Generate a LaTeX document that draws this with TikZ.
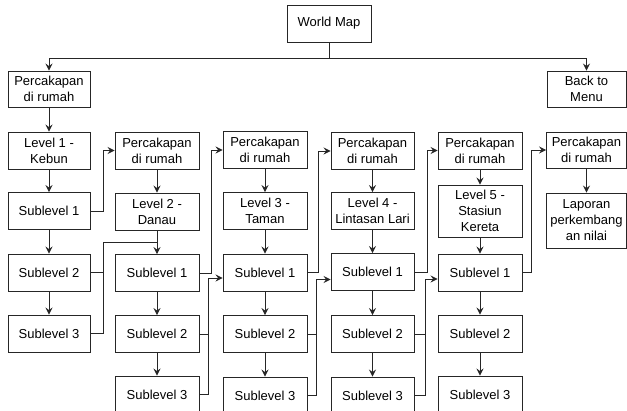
\documentclass[tikz,border=0pt]{standalone}
\usepackage{fontspec}
\setmainfont{Liberation Sans}
\usetikzlibrary{arrows.meta}
\begin{document}
\begin{tikzpicture}[x=1pt,y=-1pt,
  box/.style={draw=black!85, line width=0.9pt, inner sep=0pt, align=center,
    minimum width=83pt, minimum height=37pt, font=\fontsize{13}{16}\selectfont},
  arr/.style={draw=black!85, line width=0.9pt, -{Stealth[length=7pt,width=7pt,inset=2.5pt]}},
  ln/.style={draw=black!85, line width=0.9pt}]
\useasboundingbox (0,0) rectangle (627,411);
\clip (0,0) rectangle (627,411);
% top
\node[box, minimum width=84pt] (wm) at (329,23.5) {World Map};
\node[box, minimum width=82pt, minimum height=36pt] (p1) at (49,89) {Percakapan\\di rumah};
\node[box, minimum width=79pt, minimum height=36pt] (bm) at (586.5,89) {Back to\\Menu};
% column 1
\node[box, minimum width=82pt] (l1) at (49,150.5) {Level 1 -\\Kebun};
\node[box, minimum width=82pt] (s11) at (49,211) {Sublevel 1};
\node[box, minimum width=82pt] (s12) at (49,272.5) {Sublevel 2};
\node[box, minimum width=82pt] (s13) at (49,333.5) {Sublevel 3};
% column 2
\node[box, minimum width=84pt] (p2) at (157,150.5) {Percakapan\\di rumah};
\node[box, minimum width=84pt] (l2) at (157,211.5) {Level 2 -\\Danau};
\node[box, minimum width=84pt] (s21) at (157,273) {Sublevel 1};
\node[box, minimum width=84pt] (s22) at (157,334) {Sublevel 2};
\node[box, minimum width=84pt] (s23) at (157,394.5) {Sublevel 3};
% column 3
\node[box, minimum width=84pt] (p3) at (265,150) {Percakapan\\di rumah};
\node[box, minimum width=84pt] (l3) at (265,211) {Level 3 -\\Taman};
\node[box, minimum width=84pt] (s31) at (265,272.5) {Sublevel 1};
\node[box, minimum width=84pt] (s32) at (265,334) {Sublevel 2};
\node[box, minimum width=84pt] (s33) at (265,395.5) {Sublevel 3};
% column 4
\node[box] (p4) at (372.5,151) {Percakapan\\di rumah};
\node[box] (l4) at (372.5,211) {Level 4 -\\Lintasan Lari};
\node[box] (s41) at (372.5,272) {Sublevel 1};
\node[box] (s42) at (372.5,334) {Sublevel 2};
\node[box] (s43) at (372.5,395.5) {Sublevel 3};
% column 5
\node[box, minimum width=84pt] (p5) at (480,150.5) {Percakapan\\di rumah};
\node[box, minimum width=84pt, minimum height=52pt] (l5) at (480,211) {Level 5 -\\Stasiun\\Kereta};
\node[box, minimum width=84pt] (s51) at (480,272.5) {Sublevel 1};
\node[box, minimum width=84pt] (s52) at (480,333.5) {Sublevel 2};
\node[box, minimum width=84pt] (s53) at (480,394.5) {Sublevel 3};
% column 6
\node[box, minimum width=80pt, minimum height=36pt] (p6) at (586.5,150) {Percakapan\\di rumah};
\node[box, minimum width=80pt, minimum height=55pt] (lp) at (586.5,220.5) {Laporan\\perkembang\\an nilai};
% top connectors
\coordinate (t0) at (329,58);
\draw[arr] (wm.south) -- (t0) -| (p1.north);
\draw[arr] (t0) -| (bm.north);
% vertical chains
\draw[arr] (p1) -- (l1);
\draw[arr] (l1) -- (s11);
\draw[arr] (s11) -- (s12);
\draw[arr] (s12) -- (s13);
\draw[arr] (p2) -- (l2);
\draw[arr] (l2) -- (s21);
\draw[arr] (s21) -- (s22);
\draw[arr] (s22) -- (s23);
\draw[arr] (p3) -- (l3);
\draw[arr] (l3) -- (s31);
\draw[arr] (s31) -- (s32);
\draw[arr] (s32) -- (s33);
\draw[arr] (p4) -- (l4);
\draw[arr] (l4) -- (s41);
\draw[arr] (s41) -- (s42);
\draw[arr] (s42) -- (s43);
\draw[arr] (p5) -- (l5);
\draw[arr] (l5) -- (s51);
\draw[arr] (s51) -- (s52);
\draw[arr] (s52) -- (s53);
\draw[arr] (p6) -- (lp);
% column 1 -> column 2
\draw[arr] (s11.east) -- ++(13,0) |- (p2.west);
\coordinate (j1) at (103,242);
\draw[ln] (s13.east) -| (j1) -- (j1 -| l2.south);
\draw[ln] (s12.east) -- (s12.east -| j1);
% column 2 -> column 3
\draw[arr] (s21.east) -- ++(11.5,0) |- (p3.west);
\coordinate (j2) at (208.5,278);
\draw[arr] (s23.east) -| (j2) -- (j2 -| s31.west);
\draw[ln] (s22.east) -- (s22.east -| j2);
% column 3 -> column 4
\draw[arr] (s31.east) -- ++(11,0) |- (p4.west);
\coordinate (j3) at (316,279.5);
\draw[arr] (s33.east) -| (j3) -- (j3 -| s41.west);
\draw[ln] (s32.east) -- (s32.east -| j3);
% column 4 -> column 5
\draw[arr] (s41.east) -- ++(12.5,0) |- (p5.west);
\coordinate (j4) at (425,279);
\draw[arr] (s43.east) -| (j4) -- (j4 -| s51.west);
\draw[ln] (s42.east) -- (s42.east -| j4);
% column 5 -> column 6
\draw[arr] (s51.east) -- ++(9,0) |- (p6.west);
\end{tikzpicture}
\end{document}
